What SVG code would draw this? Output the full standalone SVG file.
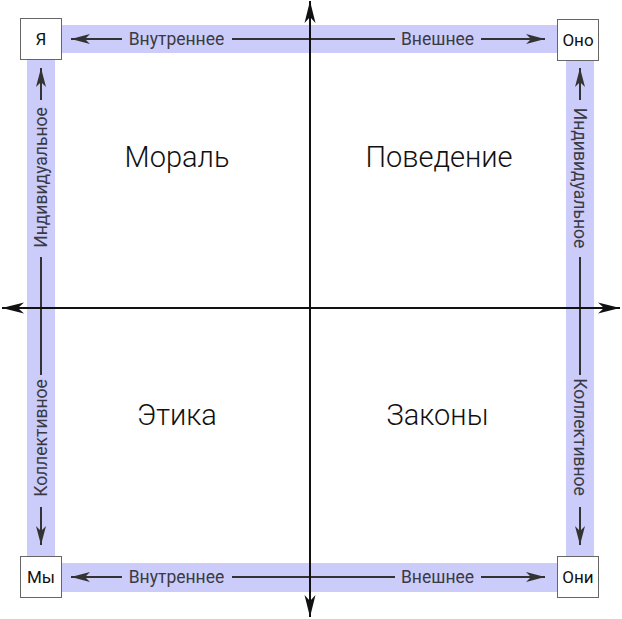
<svg xmlns="http://www.w3.org/2000/svg" width="622" height="619" viewBox="0 0 622 619">
<defs>
<marker id="ah" markerUnits="userSpaceOnUse" markerWidth="22" markerHeight="12" viewBox="-20 -6 22 12" refX="0" refY="0" orient="auto-start-reverse">
<path d="M0,0 L-19,-5 L-14,0 L-19,5 Z" fill="#333"/>
</marker>
<marker id="ax" markerUnits="userSpaceOnUse" markerWidth="24" markerHeight="14" viewBox="-22 -7 24 14" refX="0" refY="0" orient="auto-start-reverse">
<path d="M0,0 L-22,-5.5 L-16,0 L-22,5.5 Z" fill="#111"/>
</marker>
<style>
.band{fill:#ccccfa}
.bl{stroke:#333;stroke-width:2;fill:none}
.axis{stroke:#111;stroke-width:2;fill:none}
.lbl{font-family:Roboto,"Liberation Sans",sans-serif;font-size:17.5px;fill:#3a3a44;text-anchor:middle}
.box{fill:#fff;stroke:#666;stroke-width:1}
.bt{font-family:Roboto,"Liberation Sans",sans-serif;font-size:17px;fill:#111;text-anchor:middle}
.q{font-family:Roboto,"Liberation Sans",sans-serif;font-size:29px;font-weight:300;fill:#111;text-anchor:middle}
</style>
</defs>
<g id="bands">
<rect class="band" x="62" y="25" width="495" height="28"/>
<rect class="band" x="62" y="563" width="495" height="29"/>
<rect class="band" x="27" y="59" width="28" height="498"/>
<rect class="band" x="566" y="61" width="28" height="496"/>
</g>
<g id="connectors">
<line class="bl" x1="71" y1="39" x2="122" y2="39" marker-start="url(#ah)"/>
<line class="bl" x1="232" y1="39" x2="395" y2="39"/>
<line class="bl" x1="481" y1="39" x2="545" y2="39" marker-end="url(#ah)"/>
<line class="bl" x1="71" y1="577" x2="122" y2="577" marker-start="url(#ah)"/>
<line class="bl" x1="232" y1="577" x2="395" y2="577"/>
<line class="bl" x1="481" y1="577" x2="545" y2="577" marker-end="url(#ah)"/>
<line class="bl" x1="41" y1="68" x2="41" y2="100" marker-start="url(#ah)"/>
<line class="bl" x1="41" y1="257" x2="41" y2="375"/>
<line class="bl" x1="41" y1="507" x2="41" y2="545" marker-end="url(#ah)"/>
<line class="bl" x1="580" y1="68" x2="580" y2="100" marker-start="url(#ah)"/>
<line class="bl" x1="580" y1="257" x2="580" y2="375"/>
<line class="bl" x1="580" y1="507" x2="580" y2="545" marker-end="url(#ah)"/>
<line class="axis" x1="310" y1="1" x2="310" y2="617" marker-start="url(#ax)" marker-end="url(#ax)"/>
<line class="axis" x1="2" y1="308" x2="620" y2="308" marker-start="url(#ax)" marker-end="url(#ax)"/>
</g>
<g id="band-labels">
<text class="lbl" x="176.5" y="45">Внутреннее</text>
<text class="lbl" x="437.5" y="45">Внешнее</text>
<text class="lbl" x="176.5" y="583">Внутреннее</text>
<text class="lbl" x="437.5" y="583">Внешнее</text>
<text class="lbl" transform="translate(47,177.5) rotate(-90)">Индивидуальное</text>
<text class="lbl" transform="translate(47,438) rotate(-90)">Коллективное</text>
<text class="lbl" transform="translate(574,178) rotate(90)">Индивидуальное</text>
<text class="lbl" transform="translate(574,437) rotate(90)">Коллективное</text>
</g>
<g id="node-ya"><rect class="box" x="20.5" y="18.5" width="41" height="41"/><text class="bt" x="41" y="45">Я</text></g>
<g id="node-ono"><rect class="box" x="557.5" y="19.5" width="41" height="41"/><text class="bt" x="578" y="46">Оно</text></g>
<g id="node-my"><rect class="box" x="20.5" y="556.5" width="41" height="41"/><text class="bt" x="41" y="583">Мы</text></g>
<g id="node-oni"><rect class="box" x="557.5" y="556.5" width="41" height="41"/><text class="bt" x="578" y="583">Они</text></g>
<g id="quadrants">
<text class="q" x="177" y="167">Мораль</text>
<text class="q" x="439" y="167">Поведение</text>
<text class="q" x="177" y="425">Этика</text>
<text class="q" x="437.5" y="425">Законы</text>
</g>
</svg>
